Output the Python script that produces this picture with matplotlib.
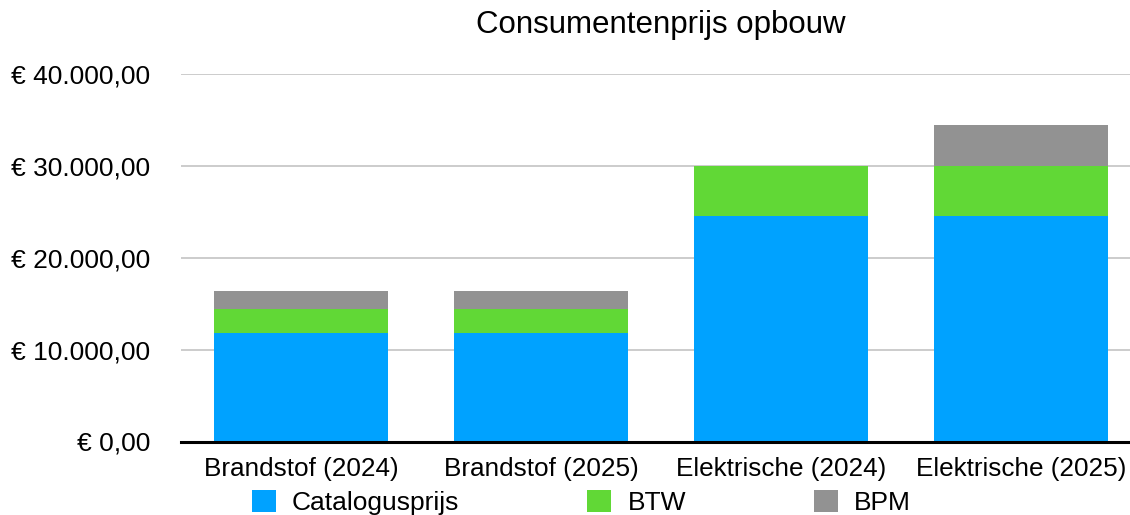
import matplotlib
matplotlib.use("Agg")
import matplotlib.pyplot as plt
from matplotlib.ticker import FuncFormatter, FixedLocator
import numpy as np

plt.rcParams['font.family'] = ['Liberation Sans', 'DejaVu Sans']

categories = ["Brandstof (2024)", "Brandstof (2025)", "Elektrische (2024)", "Elektrische (2025)"]
catalogusprijs = [11760, 11760, 24560, 24560]
btw = [2630, 2630, 5390, 5390]
bpm = [1950, 1950, 0, 4550]
series_names = ["Catalogusprijs", "BTW", "BPM"]
colors = ["#00A2FF", "#61D836", "#929292"]
yticks = [0, 10000, 20000, 30000, 40000]

W, H = 1130, 515
fig = plt.figure(figsize=(W / 100, H / 100), dpi=100)
ax = fig.add_axes([181 / W, 1 - 441.5 / H, 960 / W, (441.5 - 74) / H])

x = np.arange(len(categories))
cat = np.array(catalogusprijs)
b = np.array(btw)
p = np.array(bpm)
width = 0.725
h1 = ax.bar(x, cat, width, color=colors[0], label=series_names[0], zorder=3)
h2 = ax.bar(x, b, width, bottom=cat, color=colors[1], label=series_names[1], zorder=3)
h3 = ax.bar(x, p, width, bottom=cat + b, color=colors[2], label=series_names[2], zorder=3)

ax.set_xlim(-0.5, len(categories) - 0.5)
ax.set_ylim(0, 40000)
ax.yaxis.set_major_locator(FixedLocator(yticks))


def eur(v, pos):
    s = f"{v:,.2f}"
    s = s.replace(",", "X").replace(".", ",").replace("X", ".")
    return "€ " + s


ax.yaxis.set_major_formatter(FuncFormatter(eur))
ax.set_xticks(x)
ax.set_xticklabels(categories)

ax.grid(axis='y', color='#C4C4C4', linewidth=1.2, zorder=0)
ax.set_axisbelow(True)
for s in ['top', 'right', 'left']:
    ax.spines[s].set_visible(False)
ax.spines['bottom'].set_color('black')
ax.spines['bottom'].set_linewidth(2.2)
ax.spines['bottom'].set_zorder(4)
ax.tick_params(axis='y', length=0, pad=22, labelsize=19)
ax.tick_params(axis='x', length=0, pad=11, labelsize=18.8)

fig.text(661 / W, 1 - 25 / H, "Consumentenprijs opbouw", ha='center', va='center', fontsize=22.5)

fig.legend(handles=[h1, h2, h3], labels=series_names, loc='upper left',
           bbox_to_anchor=(252 / W, 1 - 490 / H), ncol=3, frameon=False,
           fontsize=19, handlelength=0.9, handleheight=0.9, handletextpad=0.62,
           columnspacing=4.85, borderpad=0, borderaxespad=0)

fig.savefig("out.png", dpi=100)
